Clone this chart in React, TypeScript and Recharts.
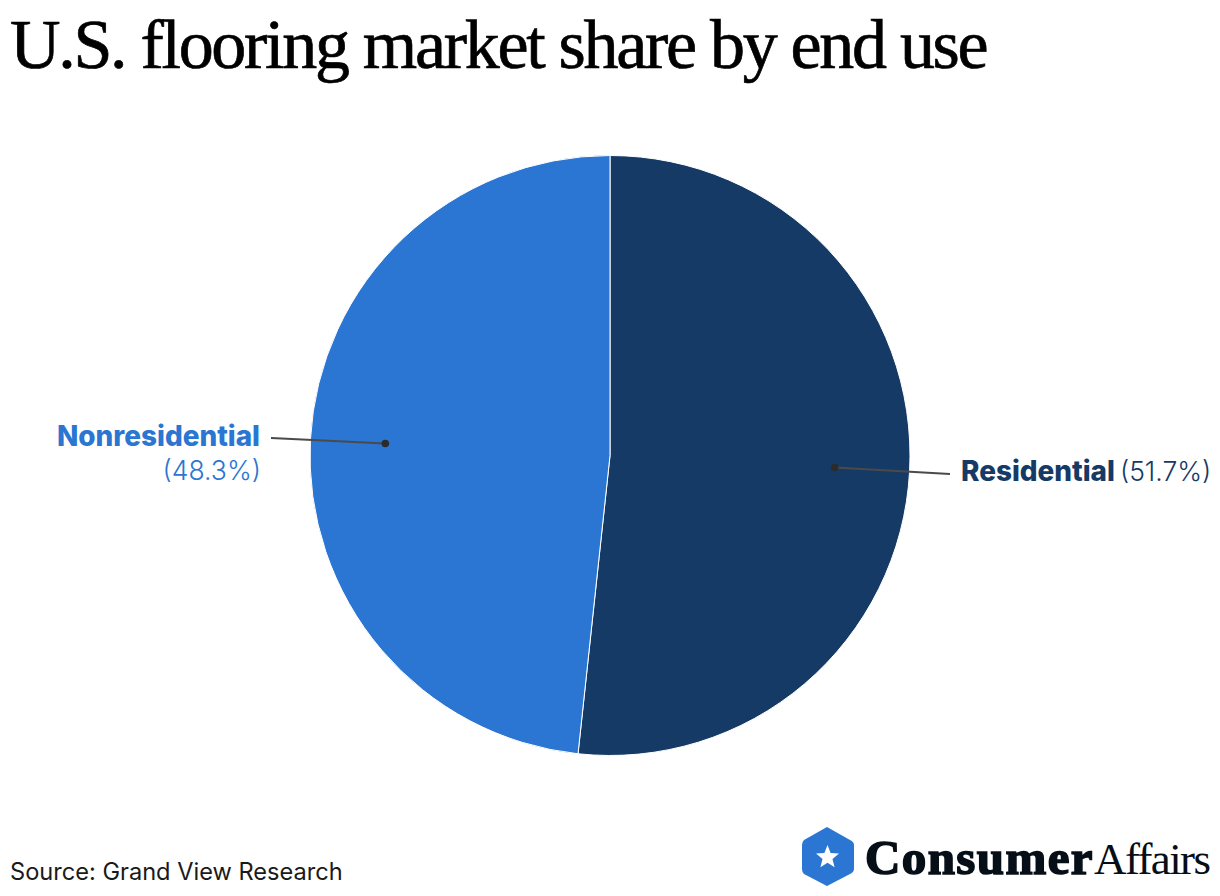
import React from 'react';
import { PieChart, Pie, Cell } from 'recharts';

const categories = ['Residential', 'Nonresidential'];
const shares = [51.7, 48.3];
const sliceColors = ['#153A66', '#2A76D2'];

const chartData = categories.map((name, i) => ({ name, value: shares[i] }));

const RADIAN = Math.PI / 180;

const renderLabel = (props: any) => {
  const { cx, cy, midAngle, outerRadius, index } = props;
  const r = outerRadius * 0.75;
  const dotX = cx + r * Math.cos(-midAngle * RADIAN);
  const dotY = cy + r * Math.sin(-midAngle * RADIAN);
  const isRight = index === 0;
  const endX = isRight ? 950 : 271;
  const endY = isRight ? 474 : 438;
  const pctText = `(${shares[index]}%)`;
  return (
    <g key={categories[index]}>
      <line x1={dotX} y1={dotY} x2={endX} y2={endY} stroke="#4A4A4A" strokeWidth={2} />
      <circle cx={dotX} cy={dotY} r={3.8} fill="#2B2B2B" />
      {isRight ? (
        <text x={961} y={481} fontFamily="Inter" fill={sliceColors[0]}>
          <tspan fontSize={27.9} fontWeight={800}>{categories[0]}</tspan>
          <tspan dx={5} fontSize={26.5} fontWeight={300}>{pctText}</tspan>
        </text>
      ) : (
        <text textAnchor="end" fontFamily="Inter" fill={sliceColors[1]}>
          <tspan x={260} y={446} fontSize={27.9} fontWeight={800}>{categories[1]}</tspan>
          <tspan x={261} y={480} fontSize={26.5} fontWeight={300}>{pctText}</tspan>
        </text>
      )}
    </g>
  );
};

const App: React.FC = () => {
  return (
    <div style={{ position: 'absolute', left: 0, top: 0, width: 1220, height: 896, background: '#fff', overflow: 'hidden' }}>
      <PieChart width={1220} height={896} margin={{ top: 0, right: 0, bottom: 0, left: 0 }}>
        <Pie
          data={chartData}
          dataKey="value"
          nameKey="name"
          cx={610}
          cy={455.5}
          outerRadius={300}
          startAngle={90}
          endAngle={-270}
          stroke="#fff"
          strokeWidth={1}
          label={renderLabel}
          labelLine={false}
          isAnimationActive={false}
        >
          {chartData.map((d, i) => (
            <Cell key={d.name} fill={sliceColors[i]} />
          ))}
        </Pie>
      </PieChart>

      <div style={{ position: 'absolute', left: 10, top: 5, fontFamily: 'Liberation Serif', fontSize: 70, lineHeight: '80px', letterSpacing: -2.3, WebkitTextStroke: '0.7px #000', color: '#000', whiteSpace: 'nowrap' }}>
        U.S. flooring market share by end use
      </div>
      <div style={{ position: 'absolute', left: 10, top: 857, fontFamily: 'Inter', fontSize: 23.6, lineHeight: '30px', color: '#1a1a1a', whiteSpace: 'nowrap' }}>
        Source: Grand View Research
      </div>

      <svg style={{ position: 'absolute', left: 800, top: 824 }} width={60} height={64}>
        <path d="M27 3 L50 16 Q54 18 54 21 L54 45 Q54 48 50 50 L27 62 L4 50 Q2 48 2 45 L2 21 Q2 18 4 16 Z" fill="#2A76D2" />
        <path d="M27.5 21 L30.6 29 L39 29.6 L32.5 35 L34.6 43.2 L27.5 38.8 L20.4 43.2 L22.5 35 L16 29.6 L24.4 29 Z" fill="#fff" />
      </svg>
      <div style={{ position: 'absolute', left: 865, top: 834, fontFamily: 'Liberation Serif', fontSize: 45, lineHeight: '48px', color: '#060E18', whiteSpace: 'nowrap' }}>
        <span style={{ fontSize: 49, fontWeight: 700, WebkitTextStroke: '1.6px #060E18', letterSpacing: 1.4 }}>Consumer</span>
        <span style={{ letterSpacing: -1.6 }}>Affairs</span>
      </div>
    </div>
  );
};

export default App;
